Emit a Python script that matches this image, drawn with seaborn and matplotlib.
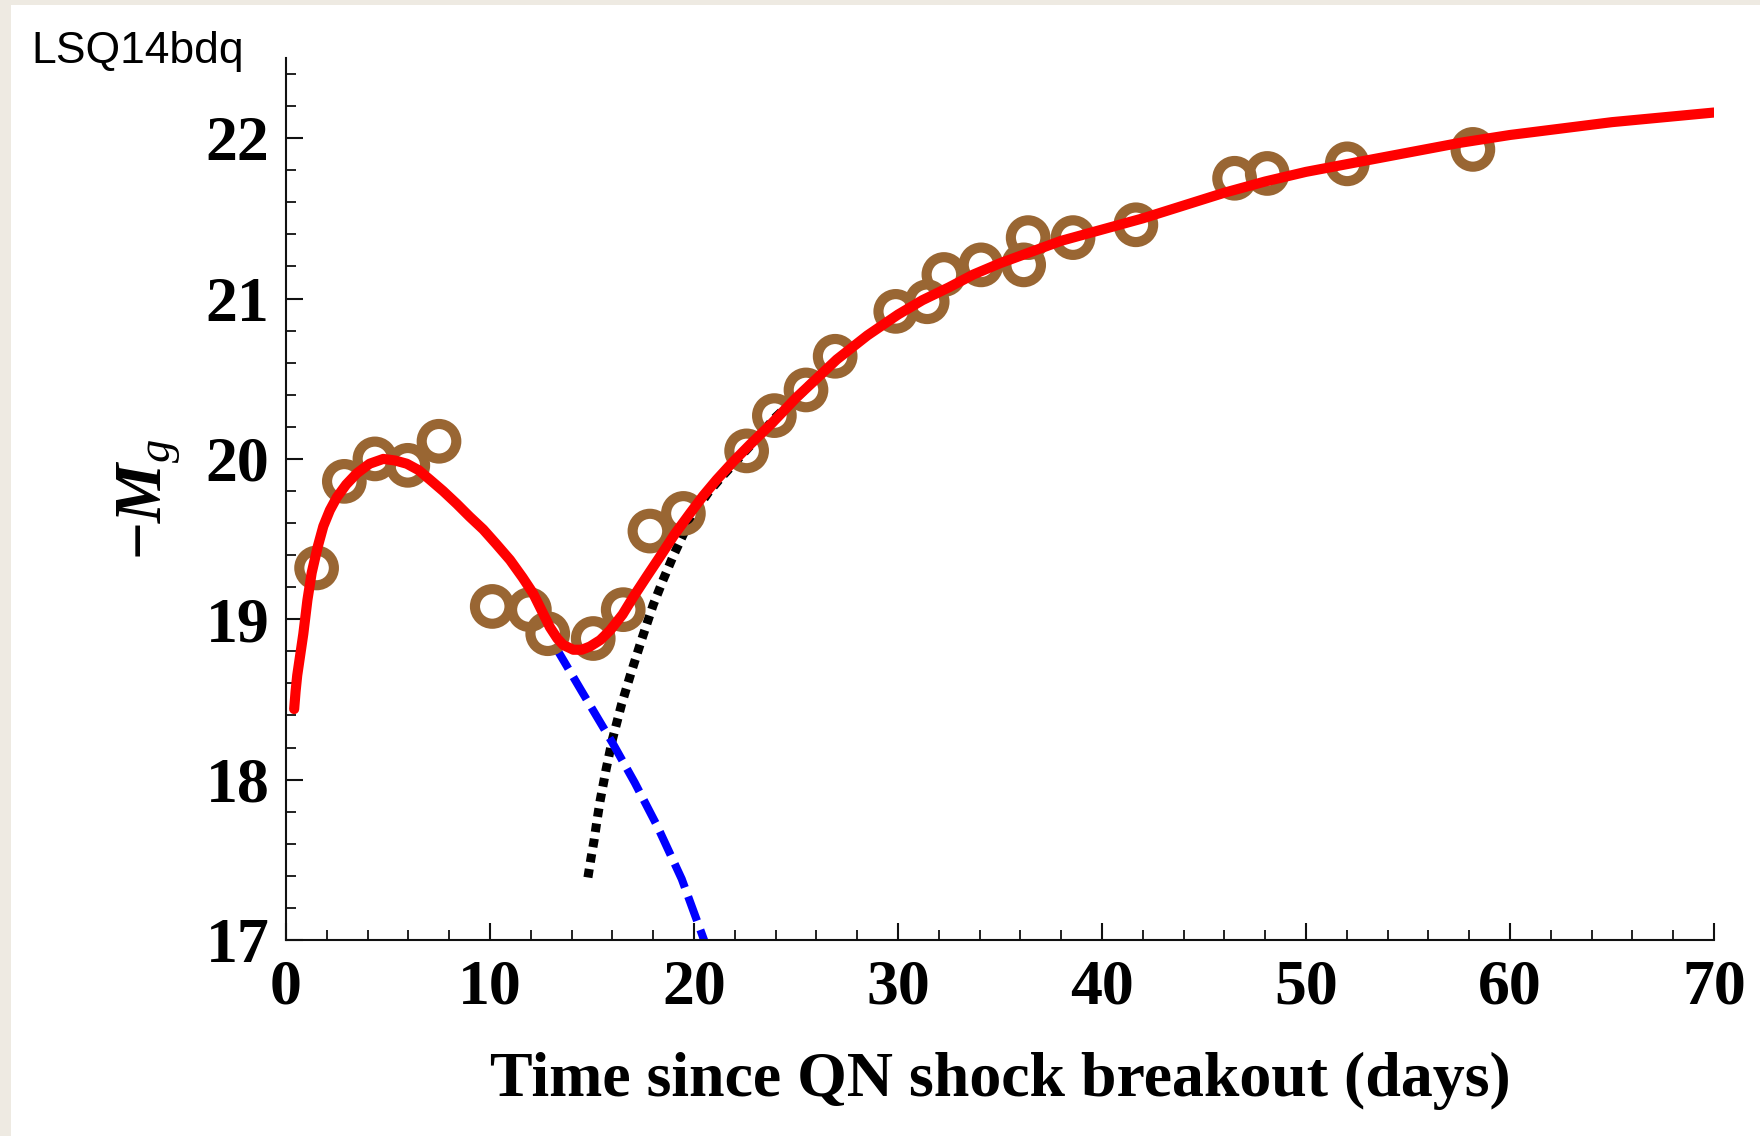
import matplotlib
matplotlib.use("Agg")
import matplotlib.pyplot as plt
import seaborn as sns
import pandas as pd
from matplotlib.ticker import MultipleLocator
from matplotlib.patches import Rectangle

# ---- data ----
obs_t = [1.50, 2.86, 4.36, 5.97, 7.50, 10.11, 11.93, 12.83, 15.06, 16.53, 17.84, 19.48,
         22.58, 23.94, 25.49, 26.92, 29.89, 31.43, 32.25, 34.07, 36.16, 36.38, 38.58,
         41.66, 46.50, 48.10, 52.02, 58.18]
obs_mag = [19.32, 19.86, 20.00, 19.96, 20.11, 19.08, 19.06, 18.91, 18.88, 19.06, 19.55, 19.66,
           20.05, 20.27, 20.43, 20.64, 20.92, 20.98, 21.15, 21.21, 21.21, 21.38, 21.38,
           21.46, 21.75, 21.78, 21.84, 21.93]

total_t = [0.40, 0.47, 0.55, 0.70, 0.85, 1.05, 1.26, 1.55, 1.83, 2.15, 2.49, 2.95, 3.47,
           4.10, 4.77, 5.35, 5.92, 6.50, 7.06, 7.70, 8.37, 9.00, 9.67, 10.30, 10.98, 11.60,
           12.12, 12.55, 12.94, 13.30, 13.59, 14.08, 14.50, 14.90, 15.40, 15.88, 16.50,
           17.03, 17.70, 18.33, 19.05, 19.80, 20.45, 21.11, 21.90, 22.75, 23.80, 25.0, 26.0,
           27.0, 28.5, 30.0, 31.2, 32.5, 33.7, 35.0, 36.5, 38.0, 40.0, 42.0, 44.0, 46.0,
           48.0, 50.0, 52.5, 55.0, 57.5, 60.0, 62.5, 65.0, 67.5, 70.0]
total_mag = [18.44, 18.55, 18.65, 18.78, 18.91, 19.12, 19.29, 19.45, 19.58, 19.68, 19.76, 19.84, 19.91,
             19.97, 20.00, 19.99, 19.97, 19.93, 19.87, 19.80, 19.72, 19.64, 19.56, 19.47, 19.37, 19.26,
             19.16, 19.05, 18.95, 18.88, 18.84, 18.81, 18.81, 18.83, 18.87, 18.93, 19.03,
             19.14, 19.27, 19.39, 19.53, 19.66, 19.77, 19.87, 19.98, 20.09, 20.22, 20.38, 20.50,
             20.62, 20.77, 20.90, 20.99, 21.07, 21.15, 21.22, 21.29, 21.36, 21.43, 21.50, 21.58, 21.66,
             21.73, 21.79, 21.85, 21.91, 21.97, 22.02, 22.06, 22.10, 22.13, 22.16]

early_t = [13.2, 14.5, 16.0, 17.1, 18.2, 19.4, 20.55]
early_mag = [18.83, 18.55, 18.23, 17.98, 17.71, 17.38, 16.98]

late_t = [14.8, 14.95, 15.1, 15.25, 15.4, 15.7, 16.0, 16.45, 16.9, 17.45, 18.0, 18.5, 19.0,
          19.55, 20.1, 20.7, 21.3, 21.95, 22.6, 23.3, 24.0, 25.0, 26.0]
late_mag = [17.39, 17.51, 17.62, 17.75, 17.87, 18.07, 18.25, 18.47, 18.66, 18.88, 19.09, 19.25, 19.40,
            19.55, 19.68, 19.79, 19.88, 19.97, 20.06, 20.16, 20.26, 20.38, 20.50]

x_ticks = [0, 10, 20, 30, 40, 50, 60, 70]
y_ticks = [17, 18, 19, 20, 21, 22]

# ---- figure ----
sns.set_theme(style="white")
plt.rcParams["font.family"] = ["Liberation Serif", "DejaVu Serif"]
plt.rcParams["text.color"] = "black"
plt.rcParams["axes.labelcolor"] = "black"
plt.rcParams["xtick.color"] = "black"
plt.rcParams["ytick.color"] = "black"
plt.rcParams["mathtext.fontset"] = "custom"
plt.rcParams["mathtext.rm"] = "Liberation Serif:bold"
plt.rcParams["mathtext.bf"] = "Liberation Serif:bold"
plt.rcParams["mathtext.it"] = "Liberation Serif:italic"
plt.rcParams["mathtext.bfit"] = "Liberation Serif:bold:italic"

fig = plt.figure(figsize=(17.6, 11.36), dpi=100)
fig.patch.set_facecolor("white")
beige = "#EEEAE2"
fig.add_artist(Rectangle((0, 0), 11 / 1760, 1, transform=fig.transFigure, color=beige, lw=0, zorder=0))
fig.add_artist(Rectangle((0, 1 - 5 / 1136), 1, 5 / 1136, transform=fig.transFigure, color=beige, lw=0, zorder=0))

ax = fig.add_axes([286 / 1760, 1 - 940 / 1136, 1428 / 1760, 882 / 1136])
ax.set_facecolor("white")

df_obs = pd.DataFrame({"t": obs_t, "mag": obs_mag})
df_total = pd.DataFrame({"t": total_t, "mag": total_mag})
df_early = pd.DataFrame({"t": early_t, "mag": early_mag})
df_late = pd.DataFrame({"t": late_t, "mag": late_mag})

sns.lineplot(data=df_late, x="t", y="mag", ax=ax, color="black", lw=6.5,
             estimator=None, sort=False, zorder=2)
ax.lines[-1].set_dashes((0.95, 0.75))
ax.lines[-1].set_dash_capstyle("butt")
sns.lineplot(data=df_early, x="t", y="mag", ax=ax, color="#0000FF", lw=5.8,
             estimator=None, sort=False, zorder=2)
ax.lines[-1].set_dashes((3.2, 1.2))
ax.lines[-1].set_dash_capstyle("butt")
sns.scatterplot(data=df_obs, x="t", y="mag", ax=ax, marker="o", s=620,
                facecolor="none", edgecolor="#996633", linewidth=7.3, zorder=3)
sns.lineplot(data=df_total, x="t", y="mag", ax=ax, color="#FF0000", lw=7.3,
             estimator=None, sort=False, zorder=4)
ax.lines[-1].set_solid_joinstyle("round")

ax.set_xlim(0, 70)
ax.set_ylim(17, 22.5)
ax.set_xticks(x_ticks)
ax.set_yticks(y_ticks)
ax.xaxis.set_minor_locator(MultipleLocator(2))
ax.yaxis.set_minor_locator(MultipleLocator(0.2))

for s in ["top", "right"]:
    ax.spines[s].set_visible(False)
for s in ["left", "bottom"]:
    ax.spines[s].set_color("#111111")
    ax.spines[s].set_linewidth(1.5)

ax.tick_params(which="major", direction="in", length=12, width=1.5, color="#111111",
               labelsize=46, labelcolor="black", bottom=True, left=True)
ax.tick_params(which="minor", direction="in", length=7.5, width=1.3, color="#111111",
               bottom=True, left=True)
ax.tick_params(axis="x", which="major", pad=14)
ax.tick_params(axis="y", which="major", pad=12)
for lab in ax.get_xticklabels() + ax.get_yticklabels():
    lab.set_fontweight("bold")
    lab.set_family("Liberation Serif")

ax.set_xlabel("Time since QN shock breakout (days)", fontsize=46, fontweight="bold",
              family="Liberation Serif", color="black")
ax.xaxis.set_label_coords(0.5, -0.127)
ax.set_ylabel(r"$\mathbf{-}\mathbfit{M}_{\mathit{g}}$", fontsize=48, color="black")
ax.yaxis.set_label_coords(-0.072, 0.5)

fig.text(31 / 1760, 1 - 63 / 1136, "LSQ14bdq", family="Liberation Sans", fontsize=32,
         color="black", ha="left", va="baseline")

fig.savefig("out.png", dpi=100, facecolor=fig.get_facecolor())
